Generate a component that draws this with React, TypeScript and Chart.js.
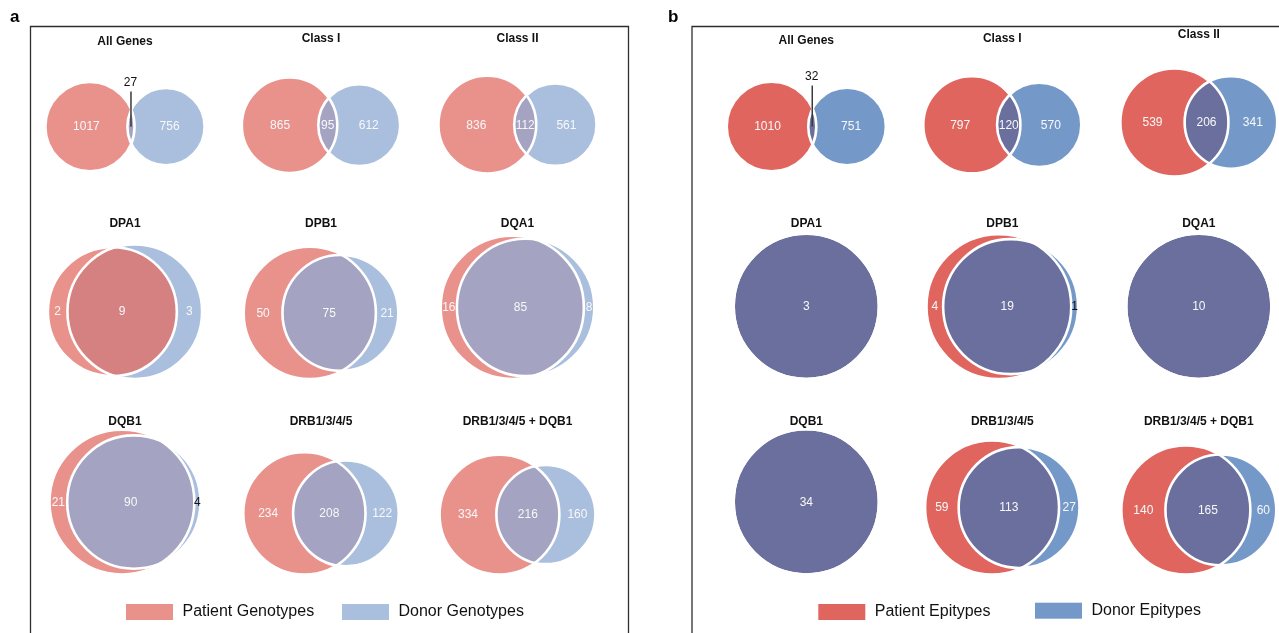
import React, { useEffect, useRef } from "react";
import { Chart, registerables } from "chart.js";

Chart.register(...registerables);

// ---------------- data ----------------
const panelLetters = ["a", "b"];
const diagramTitles = [
  "All Genes",
  "Class I",
  "Class II",
  "DPA1",
  "DPB1",
  "DQA1",
  "DQB1",
  "DRB1/3/4/5",
  "DRB1/3/4/5 + DQB1",
];
const genotypePatientOnly = [1017, 865, 836, 2, 50, 16, 21, 234, 334];
const genotypeShared = [27, 95, 112, 9, 75, 85, 90, 208, 216];
const genotypeDonorOnly = [756, 612, 561, 3, 21, 8, 4, 122, 160];
const epitopePatientOnly = [1010, 797, 539, 0, 4, 0, 0, 59, 140];
const epitopeShared = [32, 120, 206, 3, 19, 10, 34, 113, 165];
const epitopeDonorOnly = [751, 570, 341, 0, 1, 0, 0, 27, 60];
const legendLabels = [
  ["Patient Genotypes", "Donor Genotypes"],
  ["Patient Epitypes", "Donor Epitypes"],
];

// ---------------- styles / layout ----------------
const patientColors = ["#E9928C", "#E0655E"];
const donorColors = ["#A9BFDD", "#7499C8"];
const sharedColors = ["#A4A3C2", "#6B6F9E"];
const sharedColorOverrides: Record<number, string>[] = [{ 3: "#D58081" }, {}];
const darkDonorLabels = [[6], [4]];
const calloutDiagrams = [0];
const calloutOffsets = [44.7, 50.5];
const panelOffsets = [0, 681.3];
const columnCenters = [125, 321, 517.5];
const rowBottoms = [0, 379, 574.5];
const titleRowY = [0, 224, 421.5];
const BOX_W = 180;
const BOX_H = 171;
const MARGIN = 0.1;
const panelFrames = [
  { left: 30.5, top: 26.5, right: 628.5 },
  { left: 692, top: 26.5, right: 1300 },
];
const letterX = [10, 668];
const legendPatchX = [
  [126, 342],
  [818.3, 1035],
];
const legendPatchY = [
  [604, 604],
  [604, 602.7],
];
const WIDTH = 1279;
const HEIGHT = 633;
const FONT = "'Liberation Sans', Arial, Helvetica, sans-serif";

const panelSeries = [
  { patientOnly: genotypePatientOnly, shared: genotypeShared, donorOnly: genotypeDonorOnly },
  { patientOnly: epitopePatientOnly, shared: epitopeShared, donorOnly: epitopeDonorOnly },
];

// ---------------- venn geometry ----------------
function lensArea(r1: number, r2: number, d: number) {
  if (d >= r1 + r2) return 0;
  if (d <= Math.abs(r1 - r2)) return Math.PI * Math.min(r1, r2) ** 2;
  const a1 = r1 * r1 * Math.acos((d * d + r1 * r1 - r2 * r2) / (2 * d * r1));
  const a2 = r2 * r2 * Math.acos((d * d + r2 * r2 - r1 * r1) / (2 * d * r2));
  const k = 0.5 * Math.sqrt((-d + r1 + r2) * (d + r1 - r2) * (d - r1 + r2) * (d + r1 + r2));
  return a1 + a2 - k;
}

function distanceFor(r1: number, r2: number, area: number) {
  let lo = Math.abs(r1 - r2);
  let hi = r1 + r2;
  if (area >= Math.PI * Math.min(r1, r2) ** 2 - 1e-12) return lo;
  if (area <= 0) return hi;
  for (let k = 0; k < 200; k++) {
    const mid = (lo + hi) / 2;
    if (lensArea(r1, r2, mid) > area) lo = mid;
    else hi = mid;
  }
  return (lo + hi) / 2;
}

type Placed = { xA: number; xB: number; cy: number; rA: number; rB: number };

function placeDiagram(p: number, i: number): Placed {
  const s = panelSeries[p];
  const a = s.patientOnly[i];
  const ab = s.shared[i];
  const b = s.donorOnly[i];
  const total = a + ab + b;
  const areaA = (a + ab) / total;
  const areaB = (b + ab) / total;
  const areaAB = ab / total;
  const rA = Math.sqrt(areaA / Math.PI);
  const rB = Math.sqrt(areaB / Math.PI);
  const d = distanceFor(rA, rB, areaAB);
  const minX = Math.min(-rA, d - rB);
  const maxX = Math.max(rA, d + rB);
  const W = maxX - minX;
  const H = 2 * Math.max(rA, rB);
  const scale = Math.min(BOX_W / (W + 2 * MARGIN), BOX_H / (H + 2 * MARGIN));
  const row = Math.floor(i / 3);
  const col = i % 3;
  const cx = panelOffsets[p] + columnCenters[col];
  const x0 = cx - (W * scale) / 2;
  const hpx = H * scale;
  const cy = row === 0 ? 146.6 - 0.224 * hpx : rowBottoms[row] - hpx / 2;
  return {
    xA: x0 + (0 - minX) * scale,
    xB: x0 + (d - minX) * scale,
    cy,
    rA: rA * scale,
    rB: rB * scale,
  };
}

const placed: Placed[][] = [0, 1].map((p) => diagramTitles.map((_, i) => placeDiagram(p, i)));

// ---------------- drawing plugin ----------------
const vennPlugin = {
  id: "vennDecor",
  afterDatasetsDraw(chart: any) {
    const ctx: CanvasRenderingContext2D = chart.ctx;
    const xs = chart.scales.x;
    const ys = chart.scales.y;
    const X = (v: number) => xs.getPixelForValue(v);
    const Y = (v: number) => ys.getPixelForValue(v);

    for (let p = 0; p < 2; p++) {
      const metaA = chart.getDatasetMeta(p * 2);
      const metaB = chart.getDatasetMeta(p * 2 + 1);
      const series = panelSeries[p];
      for (let i = 0; i < diagramTitles.length; i++) {
        const ea = metaA.data[i];
        const eb = metaB.data[i];
        const xa = ea.x, ya = ea.y, ra = ea.options.radius;
        const xb = eb.x, yb = eb.y, rb = eb.options.radius;
        const shared = sharedColorOverrides[p][i] || sharedColors[p];

        // intersection region
        ctx.save();
        ctx.beginPath();
        ctx.arc(xa, ya, ra, 0, Math.PI * 2);
        ctx.clip();
        ctx.beginPath();
        ctx.arc(xb, yb, rb, 0, Math.PI * 2);
        ctx.fillStyle = shared;
        ctx.fill();
        ctx.restore();

        // white outlines
        ctx.save();
        ctx.strokeStyle = "#ffffff";
        ctx.lineWidth = 2.6;
        ctx.beginPath();
        ctx.arc(xa, ya, ra, 0, Math.PI * 2);
        ctx.stroke();
        ctx.beginPath();
        ctx.arc(xb, yb, rb, 0, Math.PI * 2);
        ctx.stroke();
        ctx.restore();

        // region labels
        const leftA = xa - ra, leftB = xb - rb, rightA = xa + ra, rightB = xb + rb;
        const cy = ya;
        ctx.save();
        ctx.font = `12px ${FONT}`;
        ctx.textAlign = "center";
        ctx.textBaseline = "middle";
        const a = series.patientOnly[i];
        const ab = series.shared[i];
        const b = series.donorOnly[i];
        if (a > 0) {
          ctx.fillStyle = "#f8f8f8";
          ctx.fillText(String(a), (leftA + leftB) / 2, cy + 0.5);
        }
        if (b > 0) {
          ctx.fillStyle = darkDonorLabels[p].includes(i) ? "#111111" : "#f8f8f8";
          ctx.fillText(String(b), (rightA + rightB) / 2, cy + 0.5);
        }
        const sx = (Math.max(leftA, leftB) + Math.min(rightA, rightB)) / 2;
        if (calloutDiagrams.includes(i)) {
          const ly = cy - calloutOffsets[p];
          ctx.strokeStyle = "#3a3a3a";
          ctx.lineWidth = 1.5;
          ctx.beginPath();
          ctx.moveTo(sx, ly + 9.5);
          ctx.lineTo(sx, cy);
          ctx.stroke();
          ctx.fillStyle = "#111111";
          ctx.fillText(String(ab), sx - 0.5, ly + 0.5);
        } else if (ab > 0) {
          ctx.fillStyle = "#f8f8f8";
          ctx.fillText(String(ab), sx, cy + 0.5);
        }
        ctx.restore();

        // titles
        const row = Math.floor(i / 3);
        const col = i % 3;
        const top = cy - Math.max(ra, rb);
        const ty = row === 0 ? top / 2 + 0.3 : Y(titleRowY[row]);
        ctx.save();
        ctx.font = `bold 12px ${FONT}`;
        ctx.textAlign = "center";
        ctx.textBaseline = "middle";
        ctx.fillStyle = "#111111";
        ctx.fillText(diagramTitles[i], X(panelOffsets[p] + columnCenters[col]), ty);
        ctx.restore();
      }

      // panel frame
      const f = panelFrames[p];
      ctx.save();
      ctx.strokeStyle = "#2e2e2e";
      ctx.lineWidth = 1.3;
      ctx.beginPath();
      ctx.moveTo(X(f.left), Y(HEIGHT + 10));
      ctx.lineTo(X(f.left), Y(f.top));
      ctx.lineTo(X(f.right), Y(f.top));
      ctx.lineTo(X(f.right), Y(HEIGHT + 10));
      ctx.stroke();
      ctx.restore();

      // panel letter
      ctx.save();
      ctx.font = `bold 17px ${FONT}`;
      ctx.textAlign = "left";
      ctx.textBaseline = "alphabetic";
      ctx.fillStyle = "#000000";
      ctx.fillText(panelLetters[p], X(letterX[p]), Y(21.7));
      ctx.restore();

      // legend
      for (let k = 0; k < 2; k++) {
        const ds = chart.data.datasets[p * 2 + k];
        const px = legendPatchX[p][k];
        const py = legendPatchY[p][k];
        ctx.save();
        ctx.fillStyle = ds.backgroundColor;
        ctx.fillRect(X(px), Y(py), 47, 16);
        ctx.font = `16px ${FONT}`;
        ctx.textAlign = "left";
        ctx.textBaseline = "middle";
        ctx.fillStyle = "#111111";
        ctx.fillText(ds.label, X(px + 56.5), Y(py + 8));
        ctx.restore();
      }
    }
  },
};

export default function App() {
  const canvasRef = useRef<HTMLCanvasElement>(null);

  useEffect(() => {
    if (!canvasRef.current) return;
    const datasets: any[] = [];
    for (let p = 0; p < 2; p++) {
      datasets.push({
        label: legendLabels[p][0],
        data: placed[p].map((d) => ({ x: d.xA, y: d.cy, r: d.rA })),
        backgroundColor: patientColors[p],
        borderWidth: 0,
      });
      datasets.push({
        label: legendLabels[p][1],
        data: placed[p].map((d) => ({ x: d.xB, y: d.cy, r: d.rB })),
        backgroundColor: donorColors[p],
        borderWidth: 0,
      });
    }
    const chart = new Chart(canvasRef.current, {
      type: "bubble",
      data: { datasets },
      options: {
        animation: false,
        responsive: false,
        maintainAspectRatio: false,
        devicePixelRatio: 1,
        events: [],
        layout: { padding: 0, autoPadding: false },
        scales: {
          x: { type: "linear", min: 0, max: WIDTH, display: false },
          y: { type: "linear", min: 0, max: HEIGHT, reverse: true, display: false },
        },
        plugins: {
          legend: { display: false },
          tooltip: { enabled: false },
          title: { display: false },
        },
      } as any,
      plugins: [vennPlugin],
    });
    return () => chart.destroy();
  }, []);

  return (
    <div
      style={{
        position: "absolute",
        left: 0,
        top: 0,
        width: WIDTH,
        height: HEIGHT,
        background: "#ffffff",
        overflow: "hidden",
      }}
    >
      <canvas
        ref={canvasRef}
        width={WIDTH}
        height={HEIGHT}
        style={{ display: "block", width: WIDTH, height: HEIGHT }}
      />
    </div>
  );
}
